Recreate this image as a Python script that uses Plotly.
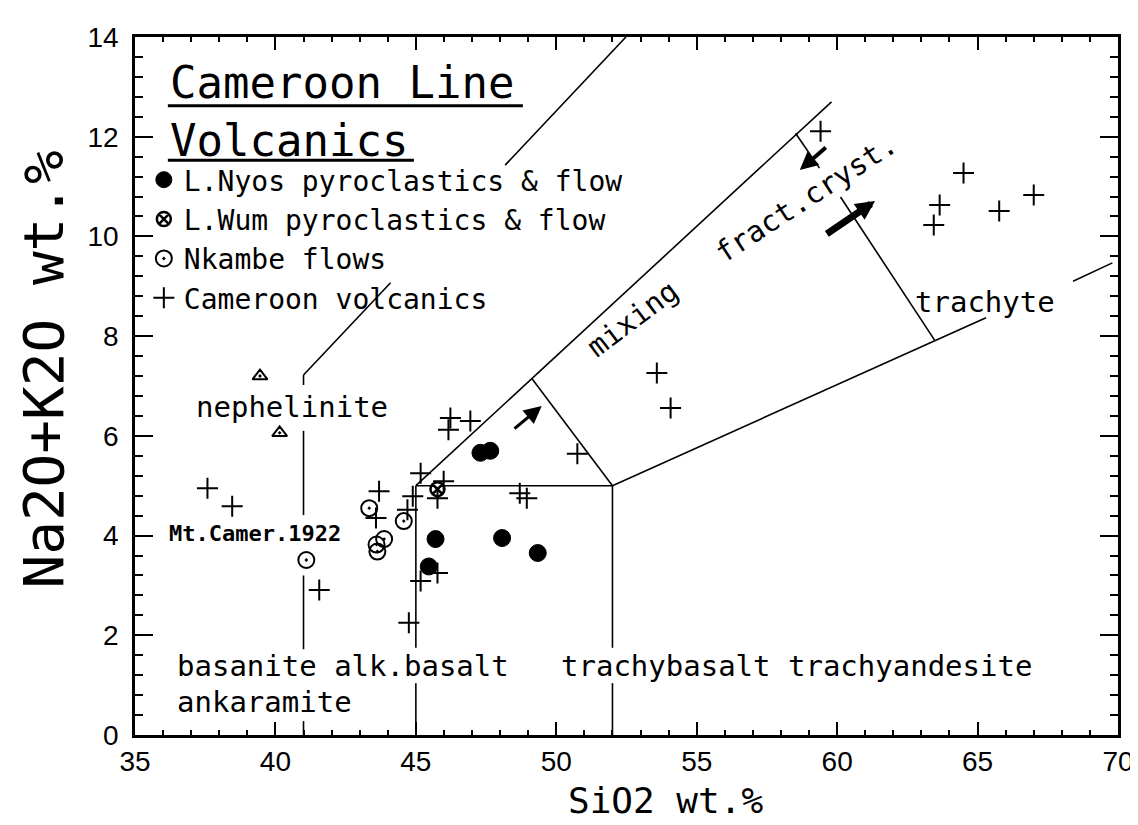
import plotly.graph_objects as go

# ---------------- data ----------------
nyos_sio2 = [47.30, 47.65, 45.70, 48.07, 49.34, 45.46]
nyos_alk = [5.66, 5.70, 3.93, 3.95, 3.65, 3.38]

wum_sio2 = [45.77]
wum_alk = [4.93]

nkambe_sio2 = [43.34, 44.57, 43.87, 43.60, 43.63, 41.10]
nkambe_alk = [4.55, 4.29, 3.93, 3.82, 3.68, 3.51]

camvol_sio2 = [37.58, 38.46, 41.56,
               45.17, 43.69, 44.89, 44.70, 43.58, 45.99, 45.77, 45.17, 45.77, 44.75,
               46.23, 46.16, 46.94, 50.75, 48.70, 48.95,
               53.58, 54.07,
               59.41, 64.50, 63.65, 63.44, 65.77, 67.00]
camvol_alk = [4.95, 4.59, 2.91,
              5.25, 4.89, 4.79, 4.52, 4.35, 5.09, 4.75, 3.09, 3.25, 2.25,
              6.36, 6.12, 6.30, 5.64, 4.85, 4.75,
              7.26, 6.56,
              12.11, 11.27, 10.63, 10.23, 10.51, 10.83]

neph_sio2 = [39.45, 40.15]
neph_alk = [7.20, 6.06]

# classification field boundaries (SiO2, Na2O+K2O polylines)
boundaries = [
    ([41.0, 41.0], [0.0, 0.28]),
    ([41.0, 41.0], [1.72, 3.20]),
    ([41.0, 41.0], [4.41, 6.10]),
    ([41.0, 41.0], [7.02, 7.22]),
    ([41.0, 44.10], [7.22, 9.07]),
    ([48.18, 52.48], [11.43, 14.0]),
    ([45.0, 45.0], [0.0, 1.04]),
    ([45.0, 45.0], [1.75, 5.0]),
    ([52.0, 52.0], [0.0, 1.04]),
    ([52.0, 52.0], [1.75, 5.0]),
    ([45.0, 52.0], [5.0, 5.0]),
    ([45.0, 59.8], [5.0, 12.70]),
    ([49.13, 52.0], [7.15, 5.0]),
    ([52.0, 63.47, 65.3], [5.0, 7.92, 8.37]),
    ([68.4, 69.8], [9.10, 9.47]),
    ([60.12, 63.47], [10.79, 7.92]),
    ([58.52, 59.37], [12.07, 11.37]),
]

# trend arrows: (tail x, tail y, head x, head y, width, size)
arrows = [
    (48.46, 6.12, 49.48, 6.60, 3.2, 1.1),
    (59.65, 11.81, 58.67, 11.33, 4.0, 0.9),
    (59.58, 10.03, 61.35, 10.71, 7.0, 0.55),
]

# field labels: (text, x, y, xanchor, angle, size)
field_labels = [
    ("nephelinite", 40.58, 6.58, "center", 0, 29),
    ("<b>Mt.Camer.1922</b>", 39.27, 4.05, "center", 0, 22),
    ("basanite alk.basalt", 36.41, 1.38, "left", 0, 29),
    ("ankaramite", 36.41, 0.66, "left", 0, 29),
    ("trachybasalt trachyandesite", 50.08, 1.38, "left", 0, 29),
    ("mixing", 52.70, 8.35, "center", -37, 29),
    ("fract.cryst.", 58.90, 10.78, "center", -33, 29),
    ("trachyte", 65.27, 8.68, "center", 0, 29),
]

title_lines = [("Cameroon Line", 13.08, 48.81, 12.62), ("Volcanics", 11.93, 44.93, 11.53)]
title_x = 36.17

x_ticks = [35, 40, 45, 50, 55, 60, 65, 70]
y_ticks = [0, 2, 4, 6, 8, 10, 12, 14]

MONO = "DejaVu Sans Mono"

fig = go.Figure()

for bx, by in boundaries:
    fig.add_trace(go.Scatter(x=bx, y=by, mode="lines", line=dict(color="black", width=1.6),
                             showlegend=False, hoverinfo="skip"))

fig.add_trace(go.Scatter(x=nyos_sio2, y=nyos_alk, mode="markers", name="L.Nyos pyroclastics & flow",
                         marker=dict(symbol="circle", size=17, color="black",
                                     line=dict(color="black", width=1))))
fig.add_trace(go.Scatter(x=wum_sio2, y=wum_alk, mode="markers", name="L.Wum pyroclastics & flow",
                         marker=dict(symbol="circle-x", size=14, color="white",
                                     line=dict(color="black", width=2.5))))
fig.add_trace(go.Scatter(x=nkambe_sio2, y=nkambe_alk, mode="markers", name="Nkambe flows",
                         marker=dict(symbol="circle-open-dot", size=16, color="black",
                                     line=dict(color="black", width=2))))
fig.add_trace(go.Scatter(x=camvol_sio2, y=camvol_alk, mode="markers", name="Cameroon volcanics",
                         marker=dict(symbol="cross-thin-open", size=15, color="black",
                                     line=dict(color="black", width=2))))
fig.add_trace(go.Scatter(x=neph_sio2, y=neph_alk, mode="markers", showlegend=False,
                         marker=dict(symbol="triangle-up-open-dot", size=13, color="black",
                                     line=dict(color="black", width=2))))

annotations = []
for tx, ty, hx, hy, w, s in arrows:
    annotations.append(dict(x=hx, y=hy, ax=tx, ay=ty, xref="x", yref="y", axref="x", ayref="y",
                            text="", showarrow=True, arrowhead=2, arrowsize=s, arrowwidth=w,
                            arrowcolor="black", standoff=0, startstandoff=0))
for txt, x, y, xa, ang, sz in field_labels:
    annotations.append(dict(x=x, y=y, xref="x", yref="y", text=txt, showarrow=False,
                            xanchor=xa, yanchor="middle", textangle=ang,
                            font=dict(family=MONO, size=sz, color="black")))
shapes = []
for txt, y, ux, uy in title_lines:
    annotations.append(dict(x=title_x, y=y, xref="x", yref="y", text=txt, showarrow=False,
                            xanchor="left", yanchor="middle",
                            font=dict(family=MONO, size=44, color="black")))
    shapes.append(dict(type="line", xref="x", yref="y", x0=title_x, x1=ux, y0=uy, y1=uy,
                       line=dict(color="black", width=3)))

annotations.append(dict(x=0.54, y=-0.094, xref="paper", yref="paper", text="SiO2 wt.%",
                        showarrow=False, xanchor="center", yanchor="middle",
                        font=dict(family=MONO, size=36, color="black")))
annotations.append(dict(x=-0.093, y=0.523, xref="paper", yref="paper", text="Na2O+K2O wt.%",
                        showarrow=False, xanchor="center", yanchor="middle", textangle=-90,
                        font=dict(family=MONO, size=56, color="black")))

axis_common = dict(showline=True, linecolor="black", linewidth=2.5, mirror="ticks",
                   ticks="inside", tickcolor="black", tickwidth=2, showgrid=False,
                   zeroline=False, tickfont=dict(family="Liberation Sans", size=28, color="black"))

fig.update_layout(
    width=1138, height=825,
    margin=dict(l=127, r=20, t=29, b=98),
    plot_bgcolor="white", paper_bgcolor="white",
    xaxis=dict(range=[35, 70], tickvals=x_ticks, ticklen=13, ticklabelstandoff=0,
               minor=dict(dtick=1, ticks="inside", ticklen=5, tickcolor="black", tickwidth=2),
               **axis_common),
    yaxis=dict(range=[0, 14], tickvals=y_ticks, ticklen=18, ticklabelstandoff=8,
               minor=dict(dtick=0.4, ticks="inside", ticklen=8, tickcolor="black", tickwidth=2),
               **axis_common),
    legend=dict(x=0.009, y=0.831, xanchor="left", yanchor="top", bgcolor="rgba(0,0,0,0)",
                font=dict(family=MONO, size=28, color="black"), itemwidth=30,
                tracegroupgap=0),
    annotations=annotations,
    shapes=shapes,
    showlegend=True,
)

fig.write_html("out.html")
